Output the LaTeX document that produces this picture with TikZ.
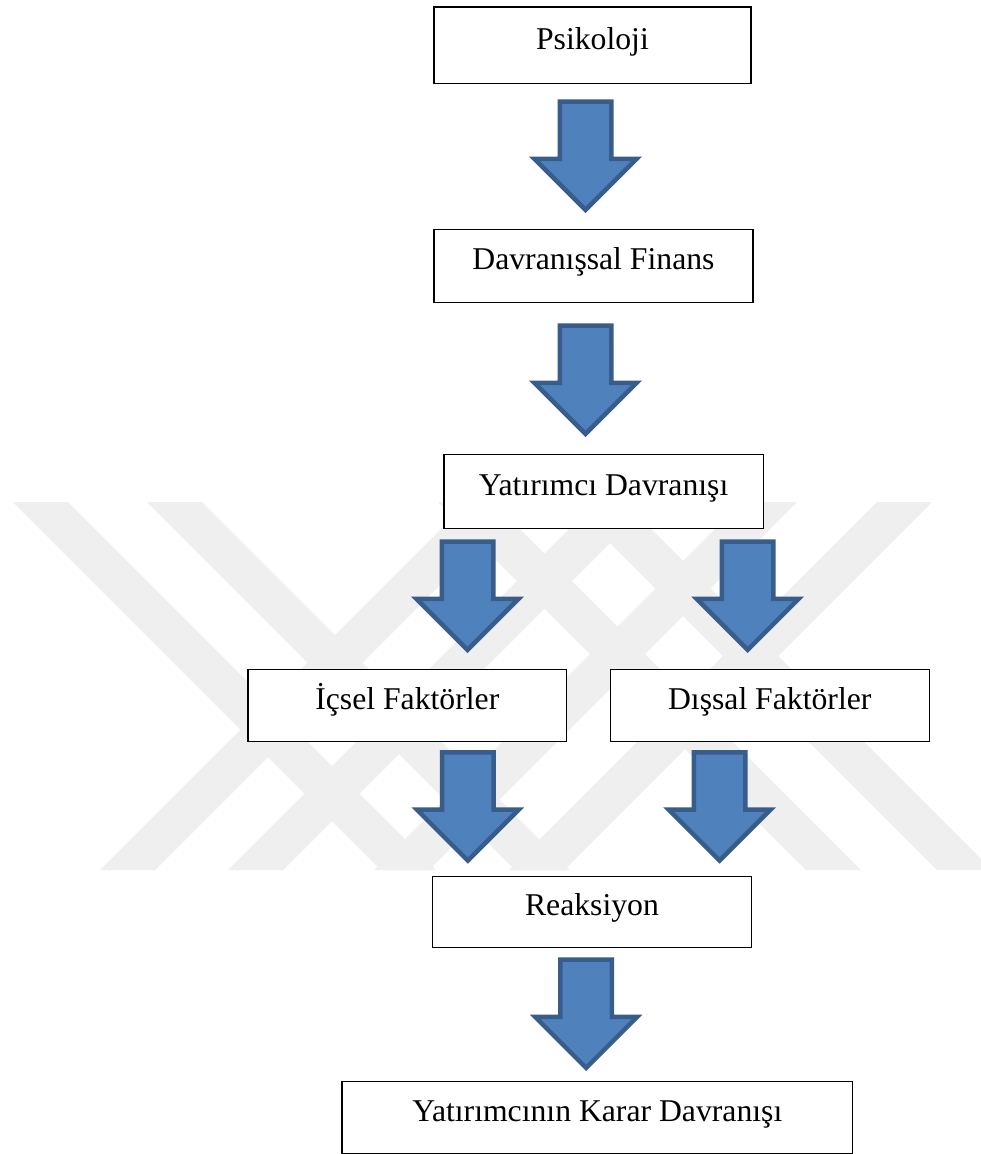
\documentclass[tikz,border=0pt]{standalone}
\usepackage{fontspec}
\setmainfont{Liberation Serif}
\definecolor{arrfill}{HTML}{4F81BD}
\definecolor{arrline}{HTML}{385D8A}
\definecolor{wmgray}{RGB}{239,239,239}
\begin{document}
\begin{tikzpicture}[x=1pt,y=-1pt,
  box/.style={draw=black, line width=1.2pt, fill=white, anchor=north west,
    inner sep=0pt, text height=21pt, text depth=13pt,
    font=\fontsize{31.7pt}{38pt}\selectfont},
  blockfill/.style={fill=arrfill, draw=arrline, line width=4.5pt, line join=miter},
  wmark/.style={fill=wmgray, draw=none},
  blockarrow/.pic={
    \path[blockfill] (-25.75,2.25) -- (25.75,2.25) -- (25.75,59.65) -- (50.9,59.65)
      -- (0,110.55) -- (-50.9,59.65) -- (-25.75,59.65) -- cycle;
  }]
\useasboundingbox[fill=white] (0,0) rectangle (981,1154);
% watermark
\begin{scope}
\clip (0,502) rectangle (981,870);
\foreach \a in {13,147,438,569}
  \path[wmark] (\a,502) -- ++(55,0) -- ++(368,368) -- ++(-55,0) -- cycle;
\foreach \a in {468,596,742,877}
  \path[wmark] (\a,502) -- ++(55,0) -- ++(-368,368) -- ++(-55,0) -- cycle;
\end{scope}
% boxes
\node[box, minimum width=317.1pt, minimum height=76.4pt] (psy) at (433.3,6.3) {Psikoloji};
\node[box, minimum width=319.1pt, minimum height=73.1pt] (dfin) at (433.3,228.6) {Davranışsal Finans};
\node[box, minimum width=319.4pt, minimum height=73.8pt] (yat) at (443.3,453.9) {Yatırımcı Davranışı};
\node[box, minimum width=318.8pt, minimum height=72.2pt] (ics) at (247.3,668.9) {İçsel Faktörler};
\node[box, minimum width=319.1pt, minimum height=72.2pt] (dis) at (609.6,668.9) {Dışsal Faktörler};
\node[box, minimum width=319.5pt, minimum height=71.3pt] (rea) at (431.6,875.6) {Reaksiyon};
\node[box, minimum width=510.8pt, minimum height=72pt] (kar) at (341.3,1080.6) {Yatırımcının Karar Davranışı};
% block arrows
\coordinate (a1) at (585.5,99.3);
\coordinate (a2) at (585.5,323.3);
\coordinate (a3) at (467.5,539.3);
\coordinate (a4) at (747.7,539.3);
\coordinate (a5) at (467.8,750);
\coordinate (a6) at (719.5,750);
\coordinate (a7) at (586.1,957.3);
\foreach \c in {a1,a2,a3,a4,a5,a6,a7}
  \pic at (\c) {blockarrow};
\end{tikzpicture}
\end{document}
